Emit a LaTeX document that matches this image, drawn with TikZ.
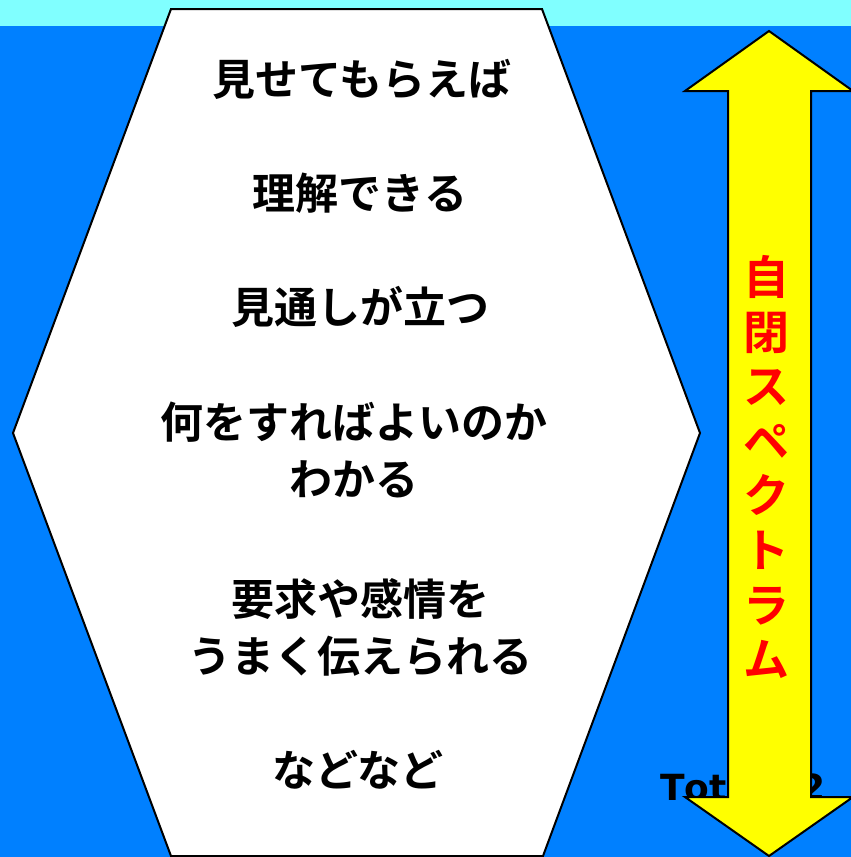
\documentclass[tikz,border=0pt]{standalone}
\usepackage{fontspec}
\newfontfamily\jpfont{Noto Sans CJK JP Bold}
\newfontfamily\latinfont[Kerning=Off]{DejaVu Sans Bold}
\definecolor{bgblue}{RGB}{0,128,255}
\definecolor{bandcyan}{RGB}{128,255,255}
\definecolor{arrowyellow}{RGB}{255,255,0}
\begin{document}
\begin{tikzpicture}[x=1pt,y=-1pt,
  line/.style={text=black,font=\jpfont\fontsize{43}{57}\selectfont,align=center,inner sep=0pt},
  redtext/.style={text=red,font=\jpfont\fontsize{46}{54.6}\selectfont,align=center,inner sep=0pt},
  outline/.style={draw=black,line width=2pt,line join=miter}]
\useasboundingbox (0,0) rectangle (851,857);
\fill[bgblue] (0,0) rectangle (851,857);
\fill[bandcyan] (0,0) rectangle (851,26);
% hexagon
\draw[outline,fill=white] (171,9) -- (542,9) -- (700,433) -- (543,856) -- (171,856) -- (13,433) -- cycle;
% texts
\node[line] (t1) at (362,79) {見せてもらえば};
\node[line] (t2) at (360,193) {理解できる};
\node[line] (t3) at (360,307) {見通しが立つ};
\node[line] (t4) at (354,450) {何をすればよいのか\\わかる};
\node[line] (t5) at (360,627) {要求や感情を\\うまく伝えられる};
\node[line] (t6) at (358,770) {などなど};
% hidden label
\node[anchor=base west,inner sep=0pt,font=\latinfont\fontsize{36}{40}\selectfont,text=black] (tot) at (660,800) {Total 12};
% double arrow
\draw[outline,fill=arrowyellow] (769,31) -- (853,91) -- (811,91) -- (811,797) -- (853,797) -- (769,856) -- (685,797) -- (728,797) -- (728,91) -- (685,91) -- cycle;
\node[redtext] (spec) at (766,467) {自\\閉\\ス\\ペ\\ク\\ト\\ラ\\ム};
\end{tikzpicture}
\end{document}
